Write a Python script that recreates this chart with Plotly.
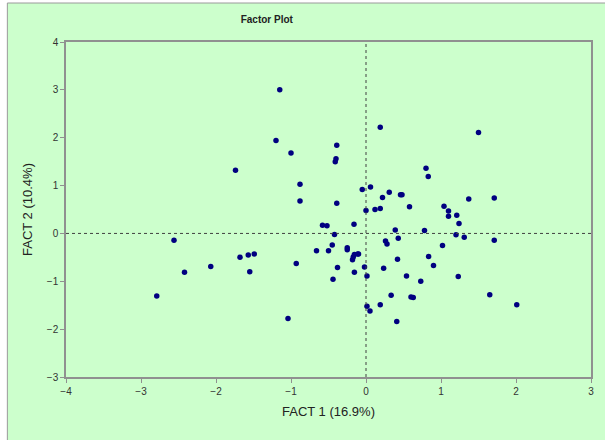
import plotly.graph_objects as go

fact1 = [-1.15, 0.19, 1.50, -1.20, -0.39, -1.00, -0.40, -0.41, -1.74, 0.80, 0.83,
         -0.88, -0.05, 0.06, 0.31, 0.46, 0.48, 0.22, 1.71, 1.37, -0.88, -0.39,
         0.58, 1.04, 1.10, 0.12, 0.19, 0.00, 1.10, 1.21, 1.24, -0.58, -0.52,
         -0.16, 0.39, 0.78, -0.42, 1.20, 1.31, 1.71, -2.56, 0.26, 0.28, 0.43,
         -0.45, 1.02, -0.25, -0.25, -0.66, -0.50, -1.49, -1.57, -1.68, -0.155,
         -0.11, -0.10, -0.17, -0.18, 0.835, 0.42, -2.07, -0.93, 0.90, -0.38,
         -0.02, 0.235, -2.42, -1.55, -0.155, 0.013, 0.54, 1.23, -0.44, 0.73,
         -2.79, 1.65, 0.335, 0.60, 0.63, 2.01, 0.19, 0.013, 0.053, -1.04, 0.41]
fact2 = [3.00, 2.22, 2.11, 1.94, 1.84, 1.68, 1.56, 1.50, 1.32, 1.36, 1.19,
         1.03, 0.92, 0.97, 0.86, 0.81, 0.81, 0.75, 0.74, 0.72, 0.68, 0.63,
         0.56, 0.57, 0.47, 0.50, 0.52, 0.48, 0.36, 0.38, 0.21, 0.17, 0.16,
         0.19, 0.07, 0.06, -0.02, -0.03, -0.08, -0.14, -0.14, -0.16, -0.22, -0.10,
         -0.24, -0.25, -0.30, -0.34, -0.36, -0.36, -0.43, -0.45, -0.50, -0.44,
         -0.43, -0.43, -0.49, -0.55, -0.48, -0.54, -0.69, -0.63, -0.67, -0.71,
         -0.70, -0.73, -0.81, -0.80, -0.81, -0.89, -0.89, -0.90, -0.96, -1.00,
         -1.31, -1.28, -1.29, -1.33, -1.34, -1.49, -1.49, -1.52, -1.62, -1.78, -1.84]

x_title = "FACT 1 (16.9%)"
y_title = "FACT 2 (10.4%)"
chart_title = "Factor Plot"
x_ticks = [-4, -3, -2, -1, 0, 1, 2, 3]
y_ticks = [-3, -2, -1, 0, 1, 2, 3, 4]

GREEN = "#CCFFCC"
FONT = "Liberation Sans, Arial, sans-serif"

fig = go.Figure()
fig.add_trace(go.Scatter(
    x=fact1, y=fact2, mode="markers",
    marker=dict(color="#000080", size=5.5, line=dict(width=0)),
    showlegend=False, hoverinfo="x+y"))

fig.add_hline(y=0, line=dict(color="#404040", width=1, dash="dot"))
fig.add_vline(x=0, line=dict(color="#404040", width=1, dash="dot"))

# outer chart-area border (extends past right/bottom edges as in reference)
fig.add_shape(type="rect", xref="paper", yref="paper",
              x0=-0.1117, x1=1.2, y0=-0.4, y1=1.1164,
              fillcolor=GREEN, line=dict(color="#9a9a9a", width=1), layer="below")

axis_common = dict(showgrid=False, zeroline=False, showline=True, mirror=True,
                   linecolor="#909090", linewidth=1.5, ticks="outside", ticklen=4,
                   tickcolor="#909090", tickfont=dict(family=FONT, size=10, color="#333333"))

fig.update_xaxes(range=[-4, 3], tickvals=x_ticks,
                 title=dict(text=x_title, font=dict(family=FONT, size=13, color="#222222"), standoff=11),
                 **axis_common)
fig.update_yaxes(range=[-3, 4], tickvals=y_ticks,
                 title=dict(text=y_title, font=dict(family=FONT, size=13, color="#222222"), standoff=11),
                 **axis_common)

fig.update_layout(
    width=605, height=440,
    margin=dict(l=66, r=11, t=42, b=63),
    paper_bgcolor="white", plot_bgcolor=GREEN,
    title=dict(text="<b>" + chart_title + "</b>", x=0.441, xanchor="center",
               y=0.955, yanchor="middle",
               font=dict(family=FONT, size=10, color="#222222")),
)

fig.write_html("out.html", config={"displayModeBar": False},
               post_script="document.body.style.margin='0';document.body.style.overflow='hidden';")
